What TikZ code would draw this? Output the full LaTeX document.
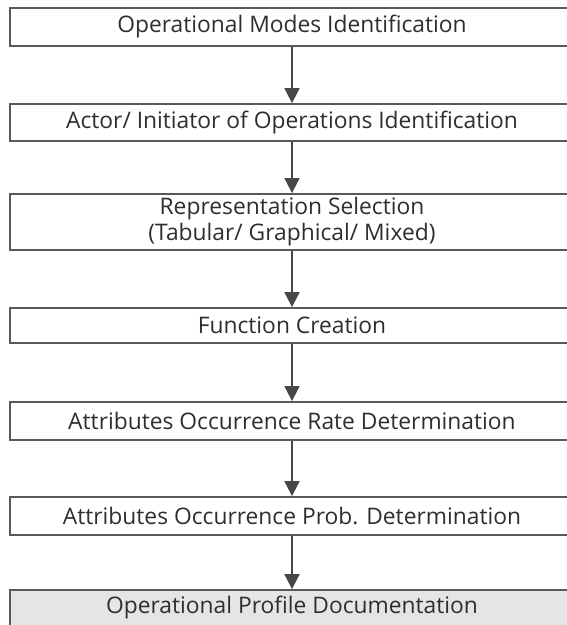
\documentclass[tikz,border=0pt]{standalone}
\usepackage{fontspec}
\setmainfont{Open Sans}
\usetikzlibrary{arrows.meta}
\begin{document}
\begin{tikzpicture}[x=1pt,y=-1pt,
  stepbox/.style={draw=black!65, line width=1.8pt, fill=white, text=black!82,
    font=\fontsize{22.8}{26}\selectfont, align=center, inner sep=0pt, minimum width=564pt},
  flow/.style={draw=black!72, line width=1.8pt, -{Triangle[width=15pt,length=15pt]}}]
\useasboundingbox (0,0) rectangle (567,625);
\fill[white] (0,0) rectangle (567,625);
\node[stepbox, minimum height=38pt] (b1) at (292,27) {Operational Modes Identification};
\node[stepbox, minimum height=37pt] (b2) at (292,122.5) {Actor/ Initiator of Operations Identification};
\node[stepbox, minimum height=56pt] (b3) at (292,222) {Representation Selection\\(Tabular/ Graphical/ Mixed)};
\node[stepbox, minimum height=35pt] (b4) at (292,325.5) {Function Creation};
\node[stepbox, minimum height=38pt] (b5) at (292,421) {Attributes Occurrence Rate Determination};
\node[stepbox, minimum height=38pt] (b6) at (292,516) {Attributes Occurrence Prob. Determination};
\node[stepbox, fill=black!10, minimum height=40pt] (b7) at (292,610) {};
\node[text=black!82, font=\fontsize{22.8}{26}\selectfont, inner sep=0pt] (t7) at (292,608) {Operational Profile Documentation};
\draw[flow] (b1.south) -- (b2.north);
\draw[flow] (b2.south) -- (b3.north);
\draw[flow] (b3.south) -- (b4.north);
\draw[flow] (b4.south) -- (b5.north);
\draw[flow] (b5.south) -- (b6.north);
\draw[flow] (b6.south) -- (b7.north);
\end{tikzpicture}
\end{document}
